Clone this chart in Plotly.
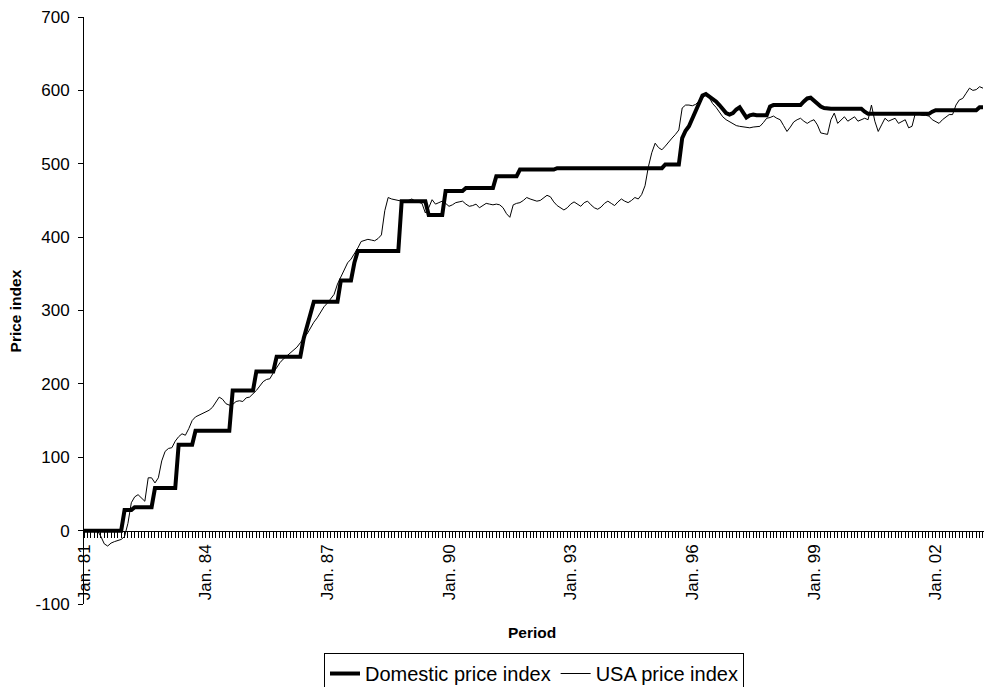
import plotly.graph_objects as go

# Monthly observations, Jan. 1981 - Mar. 2003 (one row per year)
domestic = [
    0, 0, 0, 0, 0, 0, 0, 0, 0, 0, 0, 0,
    28, 28, 28, 32, 32, 32, 32, 32, 32, 58, 58, 58,
    58, 58, 58, 58, 117, 117, 117, 117, 117, 136, 136, 136,
    136, 136, 136, 136, 136, 136, 136, 136, 191, 191, 191, 191,
    191, 191, 191, 217, 217, 217, 217, 217, 217, 237, 237, 237,
    237, 237, 237, 237, 237, 262, 280, 298, 312, 312, 312, 312,
    312, 312, 312, 312, 341, 341, 341, 341, 365, 381, 381, 381,
    381, 381, 381, 381, 381, 381, 381, 381, 381, 381, 449, 449,
    449, 449, 449, 449, 449, 449, 430, 430, 430, 430, 430, 463,
    463, 463, 463, 463, 463, 467, 467, 467, 467, 467, 467, 467,
    467, 467, 483, 483, 483, 483, 483, 483, 483, 492, 492, 492,
    492, 492, 492, 492, 492, 492, 492, 492, 494, 494, 494, 494,
    494, 494, 494, 494, 494, 494, 494, 494, 494, 494, 494, 494,
    494, 494, 494, 494, 494, 494, 494, 494, 494, 494, 494, 494,
    494, 494, 494, 494, 499, 499, 499, 499, 499, 535, 545, 551,
    562, 573, 583, 593, 595, 592, 589, 585, 580, 574, 569, 567,
    569, 574, 577, 570, 563, 566, 567, 566, 566, 566, 566, 578,
    580, 580, 580, 580, 580, 580, 580, 580, 580, 585, 589, 590,
    586, 582, 578, 576, 575, 575, 575, 575, 575, 575, 575, 575,
    575, 575, 575, 571, 568, 568, 568, 568, 568, 568, 568, 568,
    568, 568, 568, 568, 568, 568, 568, 568, 568, 568, 568, 571,
    573, 573, 573, 573, 573, 573, 573, 573, 573, 573, 573, 573,
    573, 577, 577,
]

usa = [
    0, 0, 0, 0, 0, -8, -18, -21, -17, -15, -13, -12,
    -8, 10, 38, 46, 49, 45, 40, 72, 72, 65, 72, 95,
    108, 112, 113, 122, 128, 132, 130, 139, 150, 155, 157, 160,
    162, 164, 168, 175, 182, 179, 173, 171, 172, 176, 177, 176,
    181, 182, 186, 191, 197, 203, 206, 207, 215, 223, 229, 234,
    238, 241, 245, 250, 256, 263, 268, 277, 284, 290, 297, 305,
    310, 316, 322, 336, 345, 355, 365, 370, 377, 385, 394, 396,
    397, 396, 395, 398, 403, 436, 454, 452, 451, 450, 449, 448,
    450, 452, 449, 447, 446, 433, 440, 451, 445, 447, 449, 446,
    442, 444, 447, 448, 449, 445, 442, 443, 445, 440, 443, 446,
    445, 444, 445, 444, 440, 432, 427, 444, 446, 447, 450, 454,
    452, 451, 449, 450, 453, 457, 455, 448, 443, 440, 437, 440,
    445, 448, 445, 442, 447, 449, 444, 440, 438, 441, 446, 449,
    446, 443, 448, 452, 449, 447, 450, 454, 452, 458, 470, 496,
    515, 528, 522, 519, 524, 530, 535, 540, 546, 576, 580, 580,
    579, 581, 585, 590, 594, 590, 582, 577, 570, 564, 560, 557,
    554, 552, 551, 550, 549, 549, 550, 551, 551, 556, 562, 563,
    565, 562, 560, 552, 544, 550, 557, 560, 562, 558, 555, 558,
    560, 553, 542, 541, 540, 560, 569, 555, 560, 564, 558, 561,
    564, 558, 560, 562, 560, 580, 558, 544, 553, 562, 558, 560,
    562, 555, 558, 560, 549, 551, 569, 567, 566, 566, 565, 560,
    557, 555, 560, 563, 567, 567, 580, 587, 589, 596, 603, 600,
    601, 605, 603,
]

period_index = list(range(len(domestic)))
label_months = [0, 36, 72, 108, 144, 180, 216, 252]
label_texts = ["Jan. 81", "Jan. 84", "Jan. 87", "Jan. 90",
               "Jan. 93", "Jan. 96", "Jan. 99", "Jan. 02"]
y_tick_values = [-100, 0, 100, 200, 300, 400, 500, 600, 700]
y_tick_texts = ["-100", "0", "100", "200", "300", "400", "500", "600", "700"]

# one tick mark per month, labelled every third January
label_lookup = dict(zip(label_months, label_texts))
x_tick_texts = [label_lookup.get(m, "") for m in period_index]

FONT = "Liberation Sans, Arial, sans-serif"

fig = go.Figure()
fig.add_trace(go.Scatter(x=period_index, y=domestic, mode="lines",
                         name="Domestic price index",
                         line=dict(color="black", width=4)))
fig.add_trace(go.Scatter(x=period_index, y=usa, mode="lines",
                         name="USA price index",
                         line=dict(color="black", width=1)))

fig.update_layout(
    width=984, height=687,
    margin=dict(l=84, r=0, t=17, b=83, autoexpand=False),
    paper_bgcolor="white", plot_bgcolor="white",
    font=dict(family=FONT, color="black", size=17),
    showlegend=True,
    legend=dict(orientation="h", x=0.5, xanchor="center",
                y=-0.0835, yanchor="top",
                bordercolor="black", borderwidth=1, bgcolor="white",
                font=dict(size=20, family=FONT, color="black"),
                traceorder="normal"),
    xaxis=dict(range=[0, 266.3], anchor="free", position=0.125,
               showline=True, linecolor="black", linewidth=1,
               ticks="outside", ticklen=6, tickcolor="black", tickwidth=1,
               tickmode="array", tickvals=period_index, ticktext=x_tick_texts,
               tickangle=-90, tickfont=dict(size=17, family=FONT),
               showgrid=False, zeroline=False),
    yaxis=dict(range=[-100, 700], domain=[0, 1],
               tickmode="array", tickvals=y_tick_values, ticktext=y_tick_texts,
               showline=True, linecolor="black", linewidth=1,
               ticks="outside", ticklen=5, tickcolor="black",
               ticklabelstandoff=5,
               tickfont=dict(size=17, family=FONT),
               showgrid=False, zeroline=False),
    annotations=[
        dict(text="<b>Period</b>", x=0.498, y=-0.0494, xref="paper", yref="paper",
             xanchor="center", yanchor="middle", showarrow=False,
             font=dict(size=15.5, family=FONT, color="black")),
        dict(text="<b>Price index</b>", x=-0.0756, y=0.5, xref="paper", yref="paper",
             xanchor="center", yanchor="middle", showarrow=False, textangle=-90,
             font=dict(size=15.5, family=FONT, color="black")),
    ],
)

fig.write_html("out.html")
